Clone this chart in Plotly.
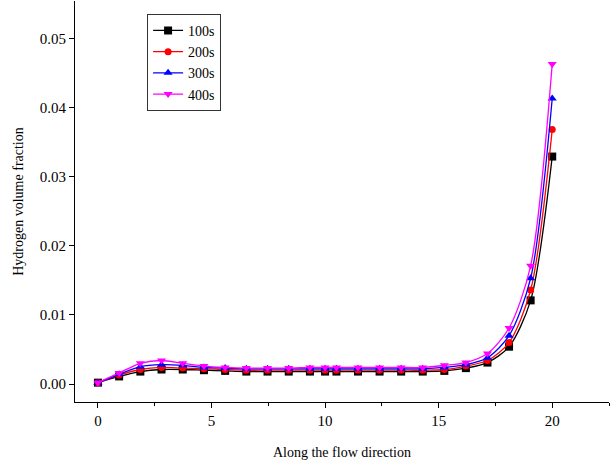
import plotly.graph_objects as go

x_pos = [0, 0.933, 1.867, 2.8, 3.733, 4.667, 5.6, 6.533, 7.467, 8.4, 9.333, 10,
         10.5, 11.45, 12.4, 13.35, 14.3, 15.25, 16.2, 17.15, 18.1, 19.05, 20]

s100 = [0.0002, 0.0011, 0.0018, 0.0021, 0.0021, 0.0020, 0.0019, 0.0018, 0.0018, 0.0018, 0.0018, 0.0018,
        0.0018, 0.0018, 0.0018, 0.0018, 0.0018, 0.0019, 0.0023, 0.0031, 0.0054, 0.0121, 0.0329]
s200 = [0.0002, 0.0013, 0.0021, 0.0024, 0.0023, 0.0022, 0.0021, 0.0020, 0.0020, 0.0020, 0.0020, 0.0020,
        0.0020, 0.0020, 0.0020, 0.0020, 0.0020, 0.0021, 0.0026, 0.0034, 0.0060, 0.0136, 0.0368]
s300 = [0.0002, 0.0014, 0.0025, 0.0028, 0.0027, 0.0024, 0.0023, 0.0022, 0.0022, 0.0022, 0.0022, 0.0022,
        0.0022, 0.0022, 0.0022, 0.0022, 0.0022, 0.0024, 0.0028, 0.0038, 0.0070, 0.0153, 0.0413]
s400 = [0.0002, 0.0016, 0.0030, 0.0034, 0.0030, 0.0026, 0.0024, 0.0023, 0.0023, 0.0023, 0.0024, 0.0024,
        0.0024, 0.0024, 0.0024, 0.0024, 0.0024, 0.0027, 0.0031, 0.0044, 0.0081, 0.0171, 0.0463]

names = ["100s", "200s", "300s", "400s"]
colors = ["#000000", "#ff0000", "#0000ff", "#ff00ff"]
symbols = ["square", "circle", "triangle-up", "triangle-down"]
series = [s100, s200, s300, s400]

FONT = "Liberation Serif"

fig = go.Figure()
for nm, col, sym, ys in zip(names, colors, symbols, series):
    fig.add_trace(go.Scatter(
        x=x_pos, y=ys, name=nm, mode="lines+markers",
        line=dict(color=col, width=1.3, shape="spline", smoothing=0.8),
        marker=dict(symbol=sym, size=8 if sym != "circle" else 7, color=col),
    ))

fig.update_layout(
    width=610, height=463,
    margin=dict(l=75, r=1, t=1, b=61),
    plot_bgcolor="white", paper_bgcolor="white",
    font=dict(family=FONT, size=13, color="black"),
    showlegend=True,
    legend=dict(
        x=0.135, y=0.968, xanchor="left", yanchor="top",
        bgcolor="white", bordercolor="#333333", borderwidth=1,
        font=dict(family=FONT, size=14, color="black"),
        tracegroupgap=0, itemwidth=30,
    ),
    xaxis=dict(
        range=[-1.01, 22.5], tickmode="array", tickvals=[0, 5, 10, 15, 20],
        ticks="outside", ticklen=5, tickcolor="black",
        showline=True, linecolor="black", linewidth=1, mirror=False,
        showgrid=False, zeroline=False,
        minor=dict(tickvals=[2.5, 7.5, 12.5, 17.5, 22.5], ticks="outside", ticklen=3, tickcolor="black"),
        title=dict(text="Along the flow direction", font=dict(family=FONT, size=14), standoff=19),
        tickfont=dict(family=FONT, size=15),
    ),
    yaxis=dict(
        range=[-0.0026, 0.0554], tickmode="array",
        tickvals=[0, 0.01, 0.02, 0.03, 0.04, 0.05],
        ticktext=["0.00", "0.01", "0.02", "0.03", "0.04", "0.05"],
        ticks="outside", ticklen=5, tickcolor="black",
        showline=True, linecolor="black", linewidth=1, mirror=False,
        showgrid=False, zeroline=False,
        title=dict(text="Hydrogen volume fraction", font=dict(family=FONT, size=14), standoff=12),
        tickfont=dict(family=FONT, size=15),
    ),
)

fig.write_html("out.html")
